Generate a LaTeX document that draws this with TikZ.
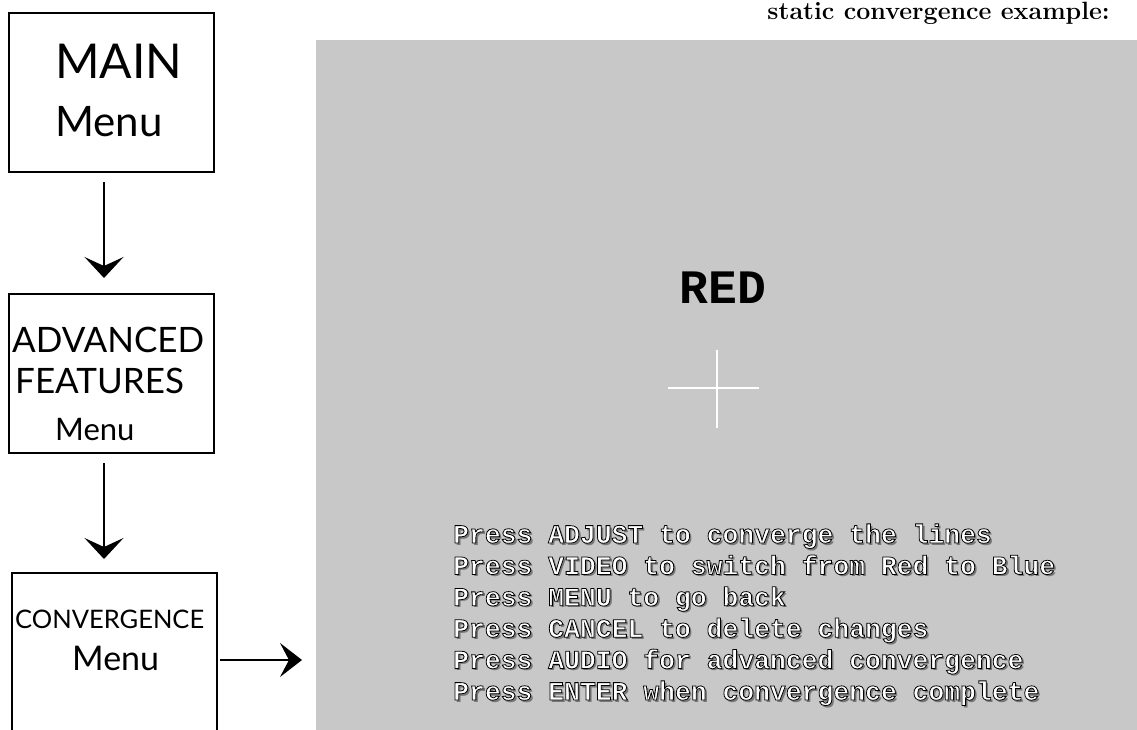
\documentclass[tikz,border=0pt]{standalone}
\usepackage{fontspec}
\newfontfamily\gill{Lato}
\newfontfamily\mono{Liberation Mono}
\newfontfamily\outl[FakeBold=3]{Liberation Mono Bold}
\usetikzlibrary{arrows.meta}
\definecolor{screengray}{RGB}{200,200,200}
\definecolor{shadowgray}{RGB}{120,120,120}
\newcommand{\outlined}[1]{{\color{white}\special{pdf:code 0 0 0 RG}\outl #1}}
\begin{document}
\begin{tikzpicture}[x=1pt,y=-1pt,
  box/.style={draw=black,line width=2.5pt,minimum width=205pt,minimum height=159pt,inner sep=0pt,outer sep=0pt},
  openbox/.style={minimum width=205pt,minimum height=174pt,inner sep=0pt,outer sep=0pt},
  boxline/.style={draw=black,line width=2.5pt},
  lbl/.style={inner sep=0pt,anchor=base west},
  flowdown/.style={line width=1.2pt,-{Stealth[length=21pt,width=39pt,inset=9pt]}},
  flowright/.style={line width=1.2pt,-{Stealth[length=22pt,width=34pt,inset=9pt]}},
  screenbox/.style={fill=screengray,minimum width=821pt,minimum height=690pt,inner sep=0pt,outer sep=0pt},
  instr/.style={inner sep=0pt,anchor=base west,font=\fontsize{26.4}{30}\selectfont},
  shadowtext/.style={inner sep=0pt,anchor=base west,text=shadowgray,font=\mono\bfseries\fontsize{26.4}{30}\selectfont},
  titletext/.style={inner sep=0pt,anchor=base east,font=\bfseries\fontsize{25}{30}\selectfont},
  redtext/.style={inner sep=0pt,anchor=base,font=\mono\bfseries\fontsize{48}{50}\selectfont},
  crossline/.style={draw=white,line width=2.5pt}
]
\useasboundingbox (0,0) rectangle (1137,730);
\fill[white] (0,0) rectangle (1137,730);

% screen
\node[screenbox] (screen) at (726.5,385) {};

% title
\node[titletext] (title) at (1110,20) {static convergence example:};

% RED and cross
\node[redtext] (red) at (723,303) {RED};
\coordinate (cc) at (717,388);
\draw[crossline] ([xshift=-49pt]cc) -- ([xshift=42pt]cc);
\draw[crossline] ([yshift=38pt]cc) -- ([yshift=-40pt]cc);

% instruction lines
\foreach \t [count=\i] in {{Press ADJUST to converge the lines},{Press VIDEO to switch from Red to Blue},{Press MENU to go back},{Press CANCEL to delete changes},{Press AUDIO for advanced convergence},{Press ENTER when convergence complete}}{
  \coordinate (p\i) at (453,{543+31.4*(\i-1)});
  \node[shadowtext] (s\i) at ([shift={(2,2)}]p\i) {\t};
  \node[instr] (t\i) at (p\i) {\outlined{\t}};
}

% boxes
\node[box] (main) at (111.5,92.5) {};
\node[box] (adv) at (111.5,373.5) {};
\node[openbox] (conv) at (114.5,660) {};
\coordinate (bottom) at (0,730);
\draw[boxline] (conv.west |- bottom) -- (conv.north west) -- (conv.north east) -- (conv.east |- bottom);

% box labels
\node[lbl,font=\gill\fontsize{48}{50}\selectfont] (mainA) at (55,79) {MAIN};
\node[lbl,font=\gill\fontsize{42}{44}\selectfont] (mainB) at (55,137) {Menu};
\node[lbl,font=\gill\fontsize{35}{38}\selectfont] (advA) at (12,352) {ADVANCED};
\node[lbl,font=\gill\fontsize{35}{38}\selectfont] (advB) at (15,393) {FEATURES};
\node[lbl,font=\gill\fontsize{31}{34}\selectfont] (advC) at (55,440) {Menu};
\node[lbl,font=\gill\fontsize{25.5}{28}\selectfont] (convA) at (15,628) {CONVERGENCE};
\node[lbl,font=\gill\fontsize{34}{36}\selectfont] (convB) at (72,670) {Menu};

% connectors
\coordinate (ax) at (104,0);
\draw[flowdown,shorten <=10pt,shorten >=16pt] (main.south -| ax) -- (adv.north -| ax);
\draw[flowdown,shorten <=10pt,shorten >=14pt] (adv.south -| ax) -- (conv.north -| ax);
\draw[flowright,shorten <=3pt,shorten >=14pt] (conv.east) -- (conv.east -| screen.west);
\end{tikzpicture}
\end{document}
